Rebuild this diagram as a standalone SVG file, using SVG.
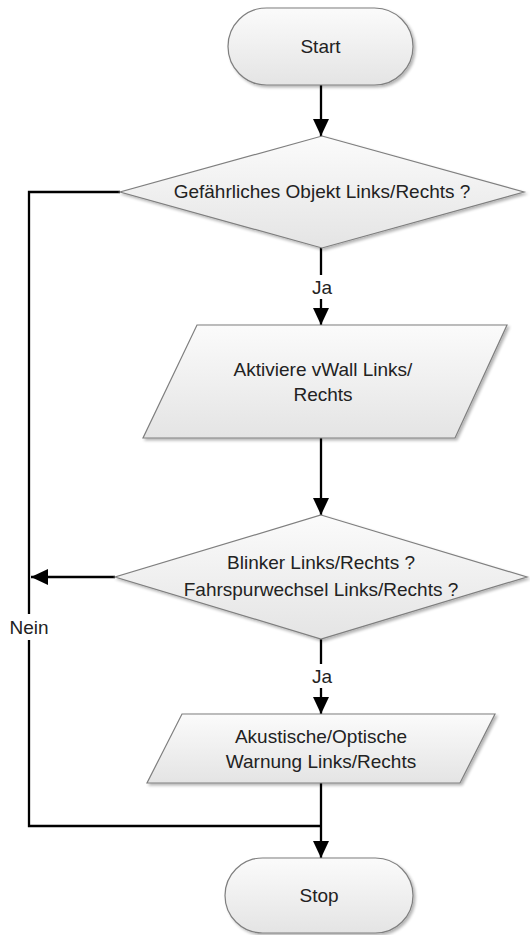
<svg xmlns="http://www.w3.org/2000/svg" width="530" height="935" viewBox="0 0 530 935">
  <defs>
    <linearGradient id="shapeFill" x1="0" y1="0" x2="0" y2="1">
      <stop offset="0" stop-color="#fbfbfb"/>
      <stop offset="1" stop-color="#e4e4e4"/>
    </linearGradient>
    <filter id="softShadow" x="-10%" y="-10%" width="125%" height="130%">
      <feGaussianBlur in="SourceAlpha" stdDeviation="1.5"/>
      <feOffset dx="2" dy="2" result="blur"/>
      <feComponentTransfer><feFuncA type="linear" slope="0.3"/></feComponentTransfer>
      <feMerge><feMergeNode/><feMergeNode in="SourceGraphic"/></feMerge>
    </filter>
    <marker id="arrow" markerUnits="userSpaceOnUse" markerWidth="18" markerHeight="16" refX="17" refY="8" orient="auto">
      <path d="M0,0 L17,8 L0,16 Z" fill="#000"/>
    </marker>
  </defs>
  <style>
    .shape { fill: url(#shapeFill); stroke: #7f7f7f; stroke-width: 1.2; filter: url(#softShadow); }
    .label { font-family: "Liberation Sans", Arial, sans-serif; font-size: 19px; fill: #222; text-anchor: middle; }
    .edge { fill: none; stroke: #000; stroke-width: 2.3; }
    .edge-label-bg { fill: #fff; }
  </style>

  <rect width="530" height="935" fill="#fff"/>

  <g id="connectors">
    <path class="edge" d="M321,85 V136" marker-end="url(#arrow)"/>
    <path class="edge" d="M321,248 V325" marker-end="url(#arrow)"/>
    <path class="edge" d="M321,438 V515" marker-end="url(#arrow)"/>
    <path class="edge" d="M115,577 H31" marker-end="url(#arrow)"/>
    <path class="edge" d="M321,639 V714" marker-end="url(#arrow)"/>
    <path class="edge" d="M120,192 H29 V826 H321"/>
    <path class="edge" d="M321,783 V858" marker-end="url(#arrow)"/>
    <g id="label-ja-1">
      <rect class="edge-label-bg" x="309" y="275" width="24" height="24"/>
      <text class="label" x="322" y="294">Ja</text>
    </g>
    <g id="label-ja-2">
      <rect class="edge-label-bg" x="309" y="664" width="24" height="24"/>
      <text class="label" x="322" y="683">Ja</text>
    </g>
    <g id="label-nein">
      <rect class="edge-label-bg" x="5" y="614" width="48" height="26"/>
      <text class="label" x="29" y="634">Nein</text>
    </g>
  </g>

  <g id="start">
    <rect class="shape" x="228" y="8" width="185" height="77" rx="38.5" ry="38.5"/>
    <text class="label" x="320.5" y="53">Start</text>
  </g>

  <g id="decision-object">
    <polygon class="shape" points="322,136 524,192 322,248 120,192"/>
    <text class="label" x="322" y="198">Gefährliches Objekt Links/Rechts ?</text>
  </g>

  <g id="activate-vwall">
    <polygon class="shape" points="197,325 507,325 455,438 143,438"/>
    <text class="label" x="323" y="376">Aktiviere vWall Links/</text>
    <text class="label" x="323" y="401">Rechts</text>
  </g>

  <g id="decision-blinker">
    <polygon class="shape" points="321,515 527,577 321,639 115,577"/>
    <text class="label" x="321" y="569">Blinker Links/Rechts ?</text>
    <text class="label" x="321" y="596">Fahrspurwechsel Links/Rechts ?</text>
  </g>

  <g id="warning">
    <polygon class="shape" points="182,714 495,714 460,783 147,783"/>
    <text class="label" x="321" y="743">Akustische/Optische</text>
    <text class="label" x="321" y="768">Warnung Links/Rechts</text>
  </g>

  <g id="stop">
    <rect class="shape" x="225" y="858" width="188" height="75" rx="37.5" ry="37.5"/>
    <text class="label" x="319" y="902">Stop</text>
  </g>
</svg>
